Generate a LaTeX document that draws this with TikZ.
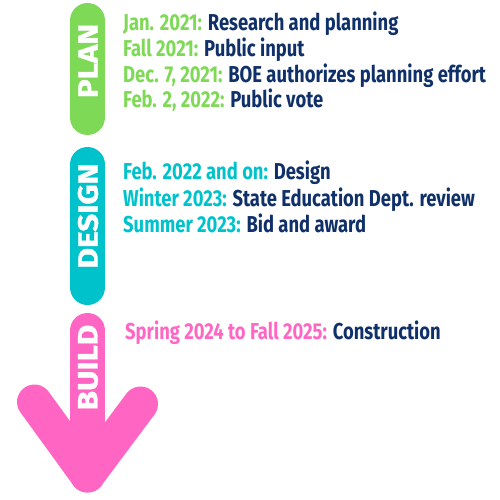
\documentclass[tikz,border=0pt]{standalone}
\usepackage{fontspec}
\setmainfont{Fira Sans}[FakeStretch=0.8]
\newfontfamily\phasefont{Fira Sans}[FakeStretch=1.12, BoldFeatures={FakeBold=1.2}]
\definecolor{plangreen}{HTML}{7ED957}
\definecolor{designteal}{HTML}{00C2CB}
\definecolor{buildpink}{HTML}{FF66C4}
\definecolor{navy}{HTML}{0F3068}
\begin{document}
\begin{tikzpicture}[x=1pt, y=-1pt,
    pill/.style={line width=35pt, line cap=round, line join=round},
    phase/.style={text=white, font=\phasefont\bfseries\fontsize{28}{28}\selectfont, rotate=90, inner sep=0pt},
    entry/.style={anchor=base west, font=\bfseries\fontsize{23}{23}\selectfont, text=navy, inner sep=0pt}
  ]
    \useasboundingbox (0,0) rectangle (500,500);
    % phase bars
    \draw[pill, plangreen] (87.5,20.5) -- (87.5,117.5);
    \draw[pill, designteal] (87.5,164.5) -- (87.5,287.5);
    \draw[pill, buildpink] (87.5,330.5) -- (87.5,475);
    \draw[pill, buildpink] (34.5,402) -- (87.5,475) -- (140.5,404);
    % phase names
    \node[phase] (plan) at (88,61) {PLAN};
    \node[phase] (design) at (88,216) {DESIGN};
    \node[phase] (build) at (88,367.5) {BUILD};
    % plan entries
    \node[entry] (plan1) at (123,31) {{\color{plangreen}Jan. 2021:} Research and planning};
    \node[entry] (plan2) at (123,57) {{\color{plangreen}Fall 2021:} Public input};
    \node[entry] (plan3) at (123,83) {{\color{plangreen}Dec. 7, 2021:} BOE authorizes planning effort};
    \node[entry] (plan4) at (123,108) {{\color{plangreen}Feb. 2, 2022:} Public vote};
    % design entries
    \node[entry] (design1) at (123,179) {{\color{designteal}Feb. 2022 and on:} Design};
    \node[entry] (design2) at (123,206) {{\color{designteal}Winter 2023:} State Education Dept. review};
    \node[entry] (design3) at (123,232) {{\color{designteal}Summer 2023:} Bid and award};
    % build entry
    \node[entry] (build1) at (125,339) {{\color{buildpink}Spring 2024 to Fall 2025:} Construction};
  \end{tikzpicture}
\end{document}
